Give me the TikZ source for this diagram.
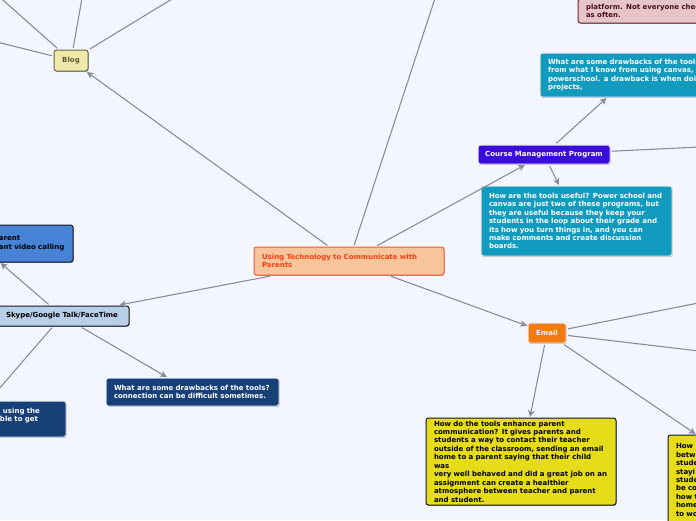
\documentclass[tikz,border=0pt]{standalone}
\usepackage{fontspec}
\setmainfont{DejaVu Sans}
\usetikzlibrary{arrows.meta,shadows}
\definecolor{bgc}{HTML}{F3F6FF}
\definecolor{linkc}{HTML}{8A8C99}
\definecolor{rootfill}{HTML}{F6C59B}
\definecolor{rootline}{HTML}{FF5A2A}
\definecolor{roottext}{HTML}{FF3C10}
\definecolor{blogfill}{HTML}{EEE9A8}
\definecolor{blogline}{HTML}{6A6840}
\definecolor{blogtext}{HTML}{5A5835}
\definecolor{purplefill}{HTML}{3A0BD9}
\definecolor{lightline}{HTML}{E4E6F4}
\definecolor{tealfill}{HTML}{119BBF}
\definecolor{pinkfill}{HTML}{E6C4C8}
\definecolor{pinkline}{HTML}{6B2A3A}
\definecolor{pinktext}{HTML}{4A0F1F}
\definecolor{orangefill}{HTML}{F27A0E}
\definecolor{yellowfill}{HTML}{E6DC1A}
\definecolor{bluefill}{HTML}{4682D6}
\definecolor{skyfill}{HTML}{B9CFE9}
\definecolor{navyfill}{HTML}{173F78}
\definecolor{darkline}{HTML}{15152A}
\tikzset{
  x=1pt,y=-1pt,
  nodebox/.style={rectangle,rounded corners=2.5pt,line width=1pt,align=left,
    font=\bfseries\fontsize{7}{8.45}\selectfont,inner sep=0pt,outer sep=1pt,
    drop shadow={shadow xshift=0.6pt,shadow yshift=-0.9pt,opacity=.35,fill=black}},
  rootbox/.style={nodebox,draw=rootline,fill=rootfill,text=roottext},
  blogbox/.style={nodebox,draw=blogline,fill=blogfill,text=blogtext},
  coursebox/.style={nodebox,draw=lightline,fill=purplefill,text=white},
  tealbox/.style={nodebox,draw=lightline,fill=tealfill,text=white},
  pinkbox/.style={nodebox,draw=pinkline,fill=pinkfill,text=pinktext},
  emailbox/.style={nodebox,draw=lightline,fill=orangefill,text=white},
  yellowbox/.style={nodebox,draw=darkline,fill=yellowfill,text=black},
  bluebox/.style={nodebox,draw=darkline,fill=bluefill,text=black},
  skypebox/.style={nodebox,draw=darkline,fill=skyfill,text=black},
  navybox/.style={nodebox,draw=lightline,fill=navyfill,text=white},
  link/.style={draw=linkc,line width=1.1pt,shorten <=1pt,-{Stealth[length=6.5pt,width=6.5pt,inset=1.5pt]}},
}
\begin{document}
\begin{tikzpicture}
\useasboundingbox (0,0) rectangle (696,520);
\clip (0,0) rectangle (696,520);
\fill[bgc] (0,0) rectangle (696,520);
% free ends outside the frame
\coordinate (topend) at (441,-20);
\coordinate (blogA) at (-10.6,-12);
\coordinate (blogB) at (-12,39.75);
\coordinate (blogC) at (83.8,-12);
\coordinate (blogD) at (190,-12);
\coordinate (courseR) at (720,146);
\coordinate (emailA) at (720,298.7);
\coordinate (emailB) at (720,353.5);
% nodes
\node[rootbox,minimum width=190pt,minimum height=28pt,text width=174pt] (root) at (349,261)
  {Using Technology to Communicate with\\Parents};
\node[blogbox,minimum width=34pt,minimum height=21pt,align=center] (blog) at (71,60.5) {Blog};
\node[coursebox,minimum width=132pt,minimum height=19pt,align=center] (course) at (544,154.5) {Course Management Program};
\node[tealbox,minimum width=184pt,minimum height=44pt,text width=168pt] (drawteal) at (632,75)
  {What are some drawbacks of the tools\\from what I know from using canvas,\\powerschool. a drawback is when doi\\projects,};
\node[tealbox,minimum width=191pt,minimum height=70pt,text width=175pt] (useteal) at (576.5,221)
  {How are the tools useful? Power school and\\canvas are just two of these programs, but\\they are useful because they keep your\\students in the loop about their grade and\\its how you turn things in, and you can\\make comments and create discussion\\boards.};
\node[pinkbox,anchor=south west,text width=174pt,inner xsep=8pt,inner ysep=5pt] (pink) at (577,24)
  {platform. Not everyone chec\\as often.};
\node[emailbox,minimum width=38pt,minimum height=20pt,align=center] (email) at (547,333) {Email};
\node[yellowbox,minimum width=190pt,minimum height=87pt,text width=174pt] (yellowA) at (521,461.5)
  {How do the tools enhance parent\\communication? It gives parents and\\students a way to contact their teacher\\outside of the classroom, sending an email\\home to a parent saying that their child was\\very well behaved and did a great job on an\\assignment can create a healthier\\atmosphere between teacher and parent\\and student.};
\node[yellowbox,minimum width=190pt,minimum height=90pt,text width=174pt] (yellowB) at (763,480)
  {How\\betw\\stude\\stayi\\stude\\be co\\how t\\home\\to wo};
\node[bluebox,minimum width=190pt,minimum height=37pt,text width=174pt] (blue) at (-22,243.5)
  {\hspace*{108pt}arent\\\hspace*{108pt}ant video calling};
\node[skypebox,minimum width=134pt,minimum height=20pt,align=center] (skype) at (62,316) {Skype/Google Talk/FaceTime};
\node[navybox,minimum width=173pt,minimum height=28pt,text width=157pt] (navyA) at (192.5,392)
  {What are some drawbacks of the tools?\\connection can be difficult sometimes.};
\node[navybox,minimum width=186pt,minimum height=36pt,text width=170pt] (navyB) at (-27,419)
  {\hspace*{115pt}using the\\\hspace*{112pt}ble to get these};
% connectors
\draw[link] (root) -- (blog);
\draw[link] (root) -- (topend);
\draw[link] (root) -- (course);
\draw[link] (root) -- (email);
\draw[link] (root) -- (skype);
\draw[link] (blog) -- (blogA);
\draw[link] (blog) -- (blogB);
\draw[link] (blog) -- (blogC);
\draw[link] (blog) -- (blogD);
\draw[link] (course) -- (drawteal);
\draw[link] (course) -- (useteal);
\draw[link] (course) -- (courseR);
\draw[link] (email) -- (emailA);
\draw[link] (email) -- (emailB);
\draw[link] (email) -- (yellowA);
\draw[link] (email) -- (yellowB);
\draw[link] (skype) -- (blue);
\draw[link] (skype) -- (navyA);
\draw[link] (skype) -- (navyB);
\end{tikzpicture}
\end{document}
